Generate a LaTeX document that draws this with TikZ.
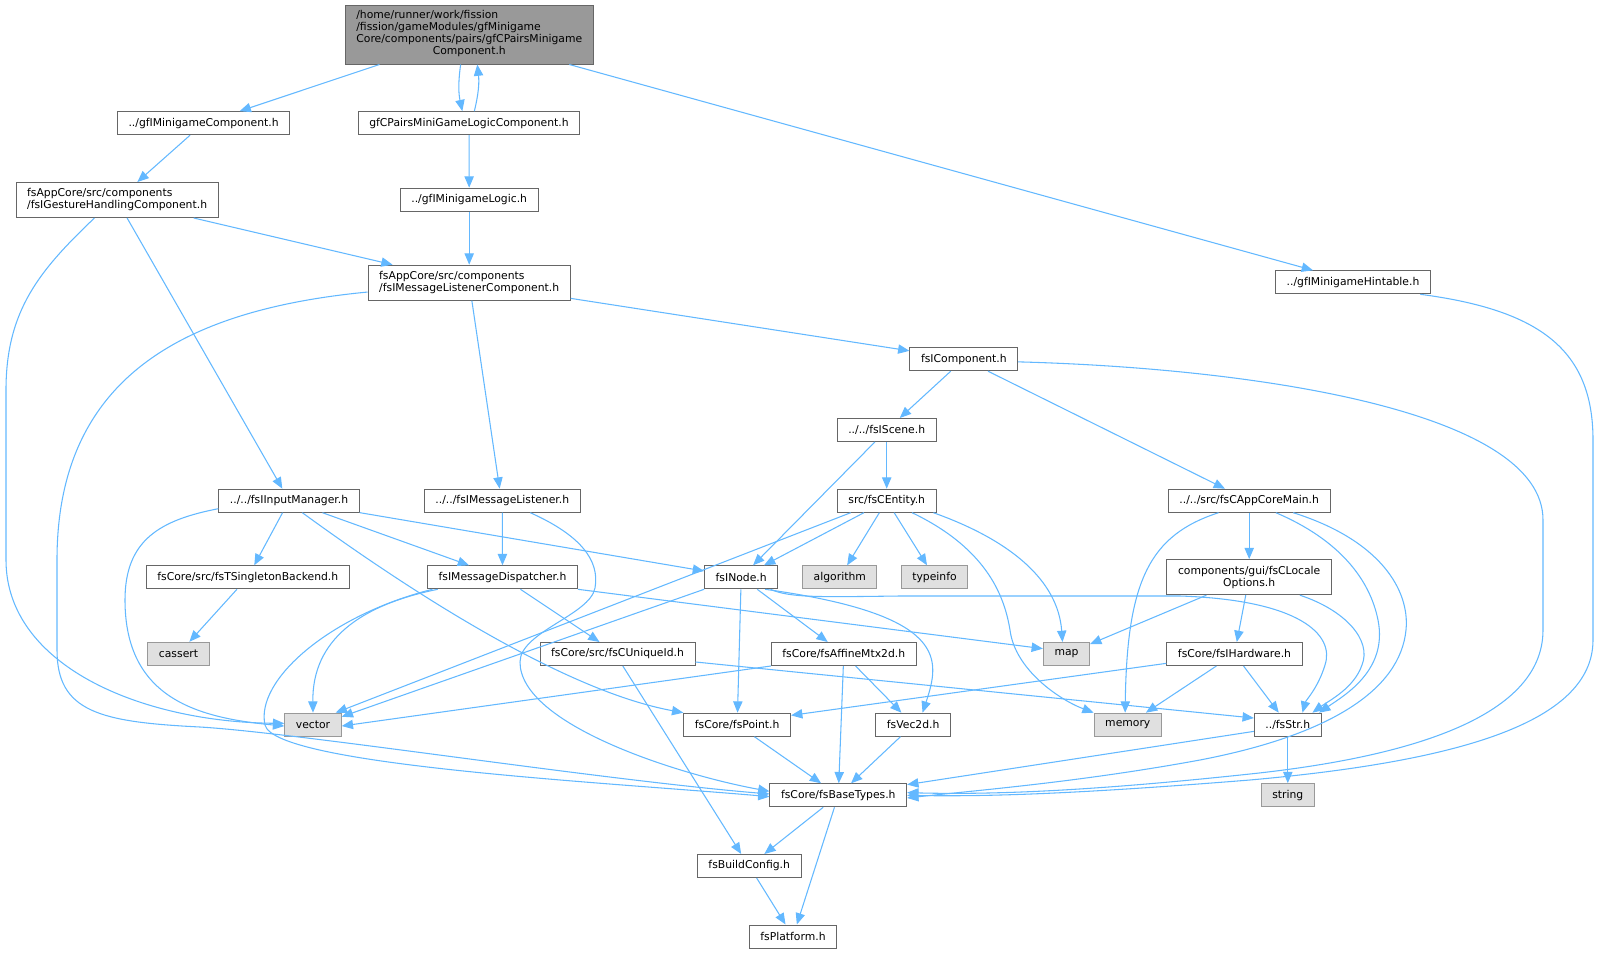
\documentclass[tikz,border=0pt]{standalone}
\usepackage{fontspec}
\setmainfont{DejaVu Sans}
\usetikzlibrary{arrows.meta}
\definecolor{edgeblue}{HTML}{63B8FF}
\definecolor{boxgray}{HTML}{666666}
\definecolor{extdraw}{HTML}{999999}
\definecolor{extfill}{HTML}{E0E0E0}
\definecolor{mainfill}{HTML}{999999}

\begin{document}
\begin{tikzpicture}[x=0.75pt, y=-0.75pt,
    file/.style={draw=boxgray, fill=white, line width=0.75pt, inner xsep=8.3pt, inner ysep=2pt,
      minimum height=17.25pt, font=\fontsize{8.1pt}{9pt}\selectfont},
    sysfile/.style={file, draw=extdraw, fill=extfill},
    twoline/.style={file, align=left, minimum height=26.25pt},
    edge/.style={draw=edgeblue, line width=0.8pt, -{Triangle[length=8.5pt,width=7pt]}}]
    \useasboundingbox (0,0) rectangle (1600,953);

    % Main file
    \node[file, fill=mainfill, minimum height=44.25pt] (main) at (469.3,34.5)
      {\begin{tabular}{@{}l@{}}/home/runner/work/fission\\/fission/gameModules/gfMinigame\\Core/components/pairs/gfCPairsMinigame\\\multicolumn{1}{@{}c@{}}{Component.h}\end{tabular}};

    % Minigame headers
    \node[file] (gfmc) at (203.6,123.2) {../gfIMinigameComponent.h};
    \node[file] (pairs) at (469,123.2) {gfCPairsMiniGameLogicComponent.h};
    \node[twoline] (gesture) at (117.1,200) {fsAppCore/src/components\\/fsIGestureHandlingComponent.h};
    \node[file] (logic) at (469.2,199.7) {../gfIMinigameLogic.h};
    \node[twoline] (mlc) at (469.2,282.7) {fsAppCore/src/components\\/fsIMessageListenerComponent.h};
    \node[file] (hint) at (1353,282.3) {../gfIMinigameHintable.h};

    % Core headers
    \node[file] (comp) at (963.8,359.2) {fsIComponent.h};
    \node[file] (scene) at (886.7,430) {../../fsIScene.h};
    \node[file] (input) at (289,500.7) {../../fsIInputManager.h};
    \node[file] (mlist) at (502.3,500.7) {../../fsIMessageListener.h};
    \node[file] (entity) at (886.7,500.7) {src/fsCEntity.h};
    \node[file] (appmain) at (1249.2,500.7) {../../src/fsCAppCoreMain.h};
    \node[file] (singleton) at (247.8,577.3) {fsCore/src/fsTSingletonBackend.h};
    \node[file] (dispatch) at (502.5,577.3) {fsIMessageDispatcher.h};
    \node[file] (inode) at (741.2,577.3) {fsINode.h};
    \node[sysfile] (algorithm) at (839.8,577.3) {algorithm};
    \node[sysfile] (typeinfo) at (934.5,577.3) {typeinfo};
    \node[twoline, align=center] (locale) at (1249.2,577.2) {components/gui/fsCLocale\\Options.h};
    \node[sysfile] (cassert) at (178.5,653.8) {cassert};
    \node[file] (uid) at (617.5,654) {fsCore/src/fsCUniqueId.h};
    \node[file] (affine) at (843.8,654) {fsCore/fsAffineMtx2d.h};
    \node[sysfile] (map) at (1066.5,654) {map};
    \node[file] (hardware) at (1234.5,654) {fsCore/fsIHardware.h};
    \node[sysfile] (vector) at (313,724.7) {vector};
    \node[file] (point) at (737.2,724.7) {fsCore/fsPoint.h};
    \node[file] (vec) at (913.2,724.7) {fsVec2d.h};
    \node[sysfile] (memory) at (1127.8,724.7) {memory};
    \node[file] (str) at (1287.8,724.7) {../fsStr.h};
    \node[file] (base) at (838.3,795.3) {fsCore/fsBaseTypes.h};
    \node[sysfile] (string) at (1287.8,795.2) {string};
    \node[file] (buildcfg) at (749.2,866) {fsBuildConfig.h};
    \node[file] (platform) at (793,936.5) {fsPlatform.h};

    % Top level
    \draw[edge] (main) -- (gfmc);
    \draw[edge] ([xshift=-6.5pt]main.south) to[bend right=10] ([xshift=-5pt]pairs.north);
    \draw[edge] ([xshift=4pt]pairs.north) to[bend right=10] ([xshift=6pt]main.south);
    \draw[edge] ([xshift=75pt]main.south) -- ([xshift=-30pt]hint.north);
    \draw[edge] (gfmc) -- (gesture);
    \draw[edge] (pairs) -- (logic);
    \draw[edge] (logic) -- (mlc);

    % Gesture component
    \draw[edge] (gesture) -- (mlc);
    \draw[edge] ([xshift=7.5pt]gesture.south) -- ([xshift=-5pt]input.north);
    \draw[edge] ([xshift=-17pt]gesture.south) .. controls (40,270) and (6,310) .. (6,390) -- (6,560)
      .. controls (6,665) and (140,722) .. ([yshift=1pt]vector.west);

    % Listener component
    \draw[edge] ([xshift=2pt]mlc.south) -- ([xshift=-2pt]mlist.north);
    \draw[edge] (mlc) -- (comp);
    \draw[edge] ([yshift=-7pt]mlc.west) .. controls (180,310) and (57,380) .. (57,560) -- (57,650)
      .. controls (57,712) and (100,722) .. (200,727) .. controls (300,733) and (600,780) .. ([yshift=1pt]base.west);

    % Hintable and component
    \draw[edge] ([xshift=-8pt]hint.south east) .. controls (1540,310) and (1593,350) .. (1593,440) -- (1593,640)
      .. controls (1593,725) and (1450,762) .. (1250,780) .. controls (1100,792) and (1000,797) .. (base.east);
    \draw[edge] ([yshift=-2pt]comp.east) .. controls (1250,368) and (1543,410) .. (1543,520) -- (1543,630)
      .. controls (1543,720) and (1400,758) .. (1250,774) .. controls (1100,790) and (1000,795) .. ([yshift=2pt]base.east);
    \draw[edge] (comp) -- (scene);
    \draw[edge] (comp) -- (appmain);
    \draw[edge] (scene) -- (inode);
    \draw[edge] (scene) -- (entity);

    % Input manager
    \draw[edge] ([yshift=-6pt]input.west) .. controls (160,520) and (125,540) .. (125,600)
      .. controls (125,700) and (200,718) .. ([yshift=-1pt]vector.west);
    \draw[edge] (input) -- (singleton);
    \draw[edge] (input) -- (dispatch);
    \draw[edge] (input) -- (inode);
    \draw[edge] ([xshift=10pt]input.south) .. controls (400,584) and (560,690) .. (point.north west);
    \draw[edge] (singleton) -- (cassert);

    % Message listener and dispatcher
    \draw[edge] (mlist) -- (dispatch);
    \draw[edge] ([xshift=21pt]mlist.south) .. controls (580,535) and (600,560) .. (595,588)
      .. controls (590,615) and (520,632) .. (520,662) .. controls (520,725) and (680,775) .. ([yshift=3pt]base.west);
    \draw[edge] ([xshift=8pt]dispatch.south west) .. controls (360,605) and (312,640) .. (vector.north);
    \draw[edge] ([xshift=4pt]dispatch.south west) .. controls (330,615) and (255,680) .. (265,725)
      .. controls (275,765) and (600,782) .. ([yshift=-1pt]base.west);
    \draw[edge] (dispatch) -- (uid);
    \draw[edge] (dispatch.south east) -- ([yshift=4pt]map.west);

    % Entity
    \draw[edge] (entity) -- (inode);
    \draw[edge] ([xshift=-27pt]entity.south) -- ([xshift=17pt]vector.north);
    \draw[edge] (entity) -- (algorithm);
    \draw[edge] (entity) -- (typeinfo);
    \draw[edge] ([xshift=19pt]entity.south) .. controls (990,550) and (1005,600) .. (1010,630)
      .. controls (1015,670) and (1060,700) .. (memory.north west);
    \draw[edge] ([xshift=35pt]entity.south) .. controls (1010,540) and (1058,580) .. ([xshift=-3pt]map.north);

    % Node
    \draw[edge] (inode.south west) -- ([yshift=6pt]vector.east);
    \draw[edge] (inode) -- (point);
    \draw[edge] (inode) -- (affine);
    \draw[edge] ([xshift=18pt]inode.south) .. controls (950,615) and (940,660) .. ([xshift=7pt]vec.north);
    \draw[edge] ([xshift=22pt]inode.south) .. controls (790,598) and (820,597) .. (900,596) -- (1180,596)
      .. controls (1300,600) and (1335,635) .. (1325,665) .. controls (1318,688) and (1306,700) .. ([xshift=11pt]str.north);

    % App core main and locale
    \draw[edge] ([xshift=-23pt]appmain.south) .. controls (1150,535) and (1127,580) .. ([xshift=-2pt]memory.north);
    \draw[edge] (appmain) -- (locale);
    \draw[edge] ([xshift=20pt]appmain.south) .. controls (1340,540) and (1370,580) .. (1378,620)
      .. controls (1388,670) and (1345,695) .. ([xshift=-2pt]str.north east);
    \draw[edge] ([xshift=33pt]appmain.south) .. controls (1380,540) and (1410,590) .. (1406,630)
      .. controls (1400,690) and (1330,735) .. (1200,760) .. controls (1080,782) and (980,790) .. ([yshift=-2pt]base.east);
    \draw[edge] (locale) -- (map);
    \draw[edge] (locale) -- (hardware);
    \draw[edge] ([xshift=38pt]locale.south) .. controls (1345,610) and (1372,640) .. (1362,665)
      .. controls (1354,688) and (1330,700) .. ([xshift=-7pt]str.north east);

    % Hardware, unique id, affine
    \draw[edge] ([yshift=-7pt]hardware.west) -- ([yshift=7pt]point.east);
    \draw[edge] (hardware) -- (memory);
    \draw[edge] (hardware) -- (str);
    \draw[edge] ([yshift=-6pt]uid.east) -- ([yshift=5pt]str.west);
    \draw[edge] ([xshift=4pt]uid.south) -- ([xshift=-6pt]buildcfg.north);
    \draw[edge] (affine.south west) -- ([yshift=-1pt]vector.east);
    \draw[edge] (affine) -- (vec);
    \draw[edge] (affine) -- (base);

    % Base types
    \draw[edge] (point) -- (base);
    \draw[edge] (vec) -- (base);
    \draw[edge] ([yshift=-5pt]str.west) -- ([yshift=8pt]base.east);
    \draw[edge] (str) -- (string);
    \draw[edge] (base) -- (buildcfg);
    \draw[edge] (base) -- (platform);
    \draw[edge] (buildcfg) -- (platform);
\end{tikzpicture}
\end{document}
